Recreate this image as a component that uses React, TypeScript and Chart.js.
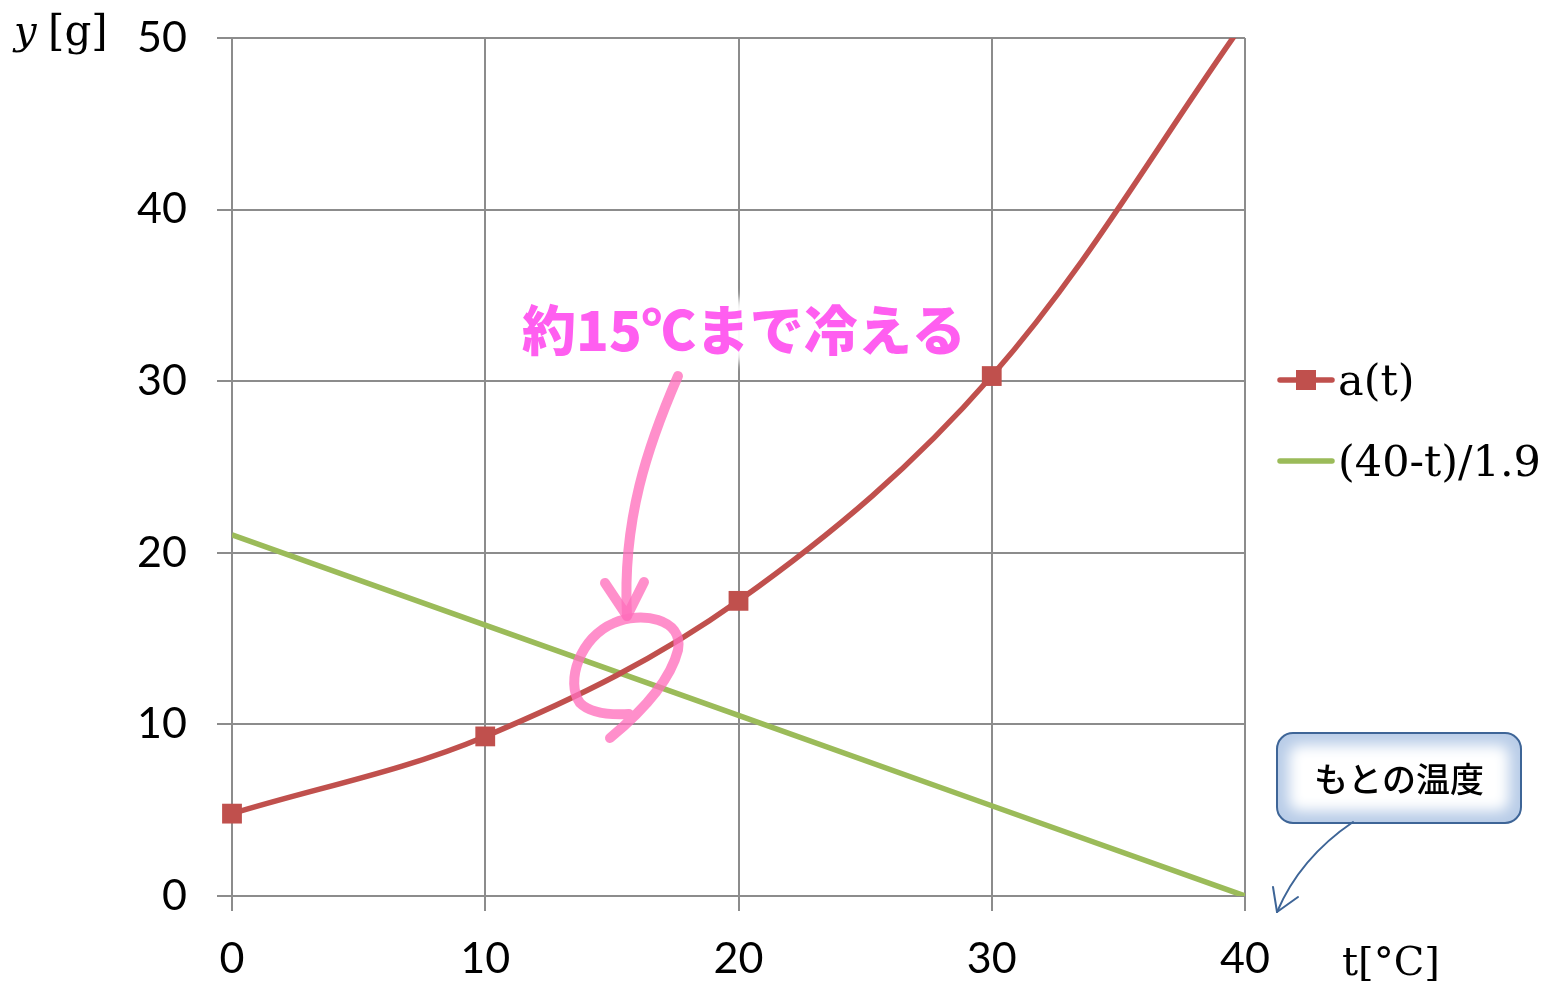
import { useEffect, useRef } from "react";
import { Chart, registerables } from "chart.js";

Chart.register(...registerables);

// Temperature (°C) at which each series is sampled
const temps = [0, 10, 20, 30, 40];
// a(t): amount in grams at each temperature
const amountValues = [4.8, 9.3, 17.2, 30.3, 51.0];
// (40 - t) / 1.9 at each temperature
const coolingValues = [21.05, 15.79, 10.53, 5.26, 0];
// Axis tick values
const xTickValues = [0, 10, 20, 30, 40];
const yTickValues = [0, 10, 20, 30, 40, 50];
// Text
const seriesNames = ["a(t)", "(40-t)/1.9"];
const noteText = "約15℃まで冷える";
const calloutText = "もとの温度";
const yTitleVar = "y";
const yTitleUnit = "[g]";
const xTitle = "t[°C]";

const RED = "#C0504D";
const GREEN = "#9BBB59";
const GRID = "#8C8C8C";
const PINK_TEXT = "#FF5EF0";
const PINK_STROKE = "rgba(255, 112, 188, 0.78)";
const CALLOUT_BLUE = "#3E6597";

function roundRect(ctx: CanvasRenderingContext2D, x: number, y: number, w: number, h: number, r: number) {
  ctx.beginPath();
  ctx.moveTo(x + r, y);
  ctx.lineTo(x + w - r, y);
  ctx.arcTo(x + w, y, x + w, y + r, r);
  ctx.lineTo(x + w, y + h - r);
  ctx.arcTo(x + w, y + h, x + w - r, y + h, r);
  ctx.lineTo(x + r, y + h);
  ctx.arcTo(x, y + h, x, y + h - r, r);
  ctx.lineTo(x, y + r);
  ctx.arcTo(x, y, x + r, y, r);
  ctx.closePath();
}

// Draws the legend, axis titles and the hand-drawn notes on top of the chart
const overlayPlugin = {
  id: "overlay",
  afterDraw(chart: Chart) {
    const ctx = chart.ctx;
    const ds = chart.data.datasets;

    ctx.save();

    // Axis titles
    ctx.fillStyle = "#000";
    ctx.textBaseline = "alphabetic";
    ctx.textAlign = "left";
    ctx.font = "italic 40px 'DejaVu Serif'";
    ctx.fillText(yTitleVar, 14, 44);
    ctx.font = "42px 'DejaVu Serif'";
    ctx.fillText(yTitleUnit, 48, 45);
    ctx.font = "40px 'DejaVu Serif'";
    ctx.fillText(xTitle, 1342, 975);

    // Legend
    const legendRows = [380, 461];
    ds.forEach((d: any, i: number) => {
      const y = legendRows[i];
      ctx.strokeStyle = d.borderColor;
      ctx.lineWidth = 5.5;
      ctx.lineCap = "round";
      ctx.beginPath();
      ctx.moveTo(1280, y);
      ctx.lineTo(1332, y);
      ctx.stroke();
      if (i === 0) {
        ctx.fillStyle = d.backgroundColor;
        ctx.fillRect(1296, y - 10, 20, 20);
      }
      ctx.fillStyle = "#000";
      ctx.font = "43px 'DejaVu Serif'";
      ctx.textBaseline = "alphabetic";
      ctx.fillText(seriesNames[i], 1338, y + 15);
    });

    // Pink arrow and loop
    ctx.strokeStyle = PINK_STROKE;
    ctx.lineWidth = 10;
    ctx.lineCap = "round";
    ctx.lineJoin = "round";
    ctx.beginPath();
    ctx.moveTo(678, 376);
    ctx.bezierCurveTo(648, 445, 622, 520, 627, 616);
    ctx.stroke();
    ctx.beginPath();
    ctx.moveTo(605, 583);
    ctx.lineTo(627, 616);
    ctx.lineTo(644, 582);
    ctx.stroke();
    ctx.beginPath();
    ctx.moveTo(610, 738);
    ctx.quadraticCurveTo(668, 690, 678, 650);
    ctx.bezierCurveTo(684, 618, 640, 611, 614, 623);
    ctx.bezierCurveTo(580, 637, 565, 682, 580, 703);
    ctx.quadraticCurveTo(593, 716, 629, 714);
    ctx.stroke();

    // Pink note with white glow
    ctx.font = "900 54px 'Noto Sans CJK JP'";
    ctx.textAlign = "left";
    ctx.textBaseline = "middle";
    ctx.save();
    ctx.filter = "blur(5px)";
    ctx.strokeStyle = "rgba(255,255,255,0.95)";
    ctx.lineWidth = 22;
    ctx.strokeText(noteText, 522, 330);
    ctx.restore();
    ctx.fillStyle = PINK_TEXT;
    ctx.fillText(noteText, 522, 330);

    // Callout box
    const bx = 1277, by = 733, bw = 244, bh = 90, br = 16;
    ctx.save();
    roundRect(ctx, bx, by, bw, bh, br);
    ctx.clip();
    ctx.fillStyle = "#B9CDE8";
    ctx.fillRect(bx, by, bw, bh);
    ctx.filter = "blur(7px)";
    ctx.fillStyle = "#FFFFFF";
    roundRect(ctx, bx + 12, by + 12, bw - 24, bh - 24, 10);
    ctx.fill();
    ctx.restore();
    ctx.strokeStyle = CALLOUT_BLUE;
    ctx.lineWidth = 2;
    roundRect(ctx, bx, by, bw, bh, br);
    ctx.stroke();
    ctx.fillStyle = "#000";
    ctx.font = "500 34px 'Noto Sans CJK JP'";
    ctx.textAlign = "center";
    ctx.textBaseline = "middle";
    ctx.fillText(calloutText, bx + bw / 2, by + bh / 2 + 1);

    // Callout arrow
    ctx.strokeStyle = CALLOUT_BLUE;
    ctx.lineWidth = 2;
    ctx.lineCap = "round";
    ctx.beginPath();
    ctx.moveTo(1353, 822);
    ctx.quadraticCurveTo(1300, 858, 1277, 912);
    ctx.stroke();
    ctx.beginPath();
    ctx.moveTo(1273, 887);
    ctx.lineTo(1277, 912);
    ctx.lineTo(1298, 897);
    ctx.stroke();

    ctx.restore();
  },
};

export default function App() {
  const canvasRef = useRef<HTMLCanvasElement | null>(null);

  useEffect(() => {
    const canvas = canvasRef.current;
    if (!canvas) return;
    const chart = new Chart(canvas, {
      type: "line",
      data: {
        datasets: [
          {
            label: seriesNames[0],
            data: temps.map((t, i) => ({ x: t, y: amountValues[i] })),
            borderColor: RED,
            backgroundColor: RED,
            borderWidth: 5.5,
            tension: 0.35,
            pointStyle: "rect",
            pointRadius: [14, 14, 14, 14, 0],
            pointBorderWidth: 0,
            pointBackgroundColor: RED,
            clip: { left: 20, right: 0, top: 0, bottom: 20 } as any,
          },
          {
            label: seriesNames[1],
            data: temps.map((t, i) => ({ x: t, y: coolingValues[i] })),
            borderColor: GREEN,
            backgroundColor: GREEN,
            borderWidth: 5.5,
            tension: 0,
            pointRadius: 0,
          },
        ],
      },
      options: {
        responsive: false,
        animation: false,
        events: [],
        layout: { padding: { top: 38, right: 307, left: 0, bottom: 0 } },
        plugins: {
          legend: { display: false },
          tooltip: { enabled: false },
        },
        scales: {
          x: {
            type: "linear",
            min: 0,
            max: 40,
            afterBuildTicks: (scale: any) => {
              scale.ticks = xTickValues.map((v) => ({ value: v }));
            },
            afterFit: (scale: any) => {
              scale.height = 90;
              scale.paddingLeft = 0;
              scale.paddingRight = 0;
            },
            grid: { color: GRID, lineWidth: 2, tickLength: 15, drawTicks: true },
            border: { color: GRID, width: 2 },
            ticks: {
              color: "#000",
              font: { family: "Lato", size: 43 },
              padding: 22,
              maxRotation: 0,
            },
          },
          y: {
            type: "linear",
            min: 0,
            max: 50,
            afterBuildTicks: (scale: any) => {
              scale.ticks = yTickValues.map((v) => ({ value: v }));
            },
            afterFit: (scale: any) => {
              scale.width = 232;
              scale.paddingTop = 0;
              scale.paddingBottom = 0;
            },
            grid: { color: GRID, lineWidth: 2, tickLength: 15, drawTicks: true },
            border: { color: GRID, width: 2 },
            ticks: {
              color: "#000",
              font: { family: "Lato", size: 43 },
              padding: 30,
            },
          },
        },
      },
      plugins: [overlayPlugin],
    });
    return () => chart.destroy();
  }, []);

  return (
    <div style={{ position: "absolute", left: 0, top: 0, width: 1552, height: 986, background: "#fff" }}>
      <canvas ref={canvasRef} width={1552} height={986} />
    </div>
  );
}
